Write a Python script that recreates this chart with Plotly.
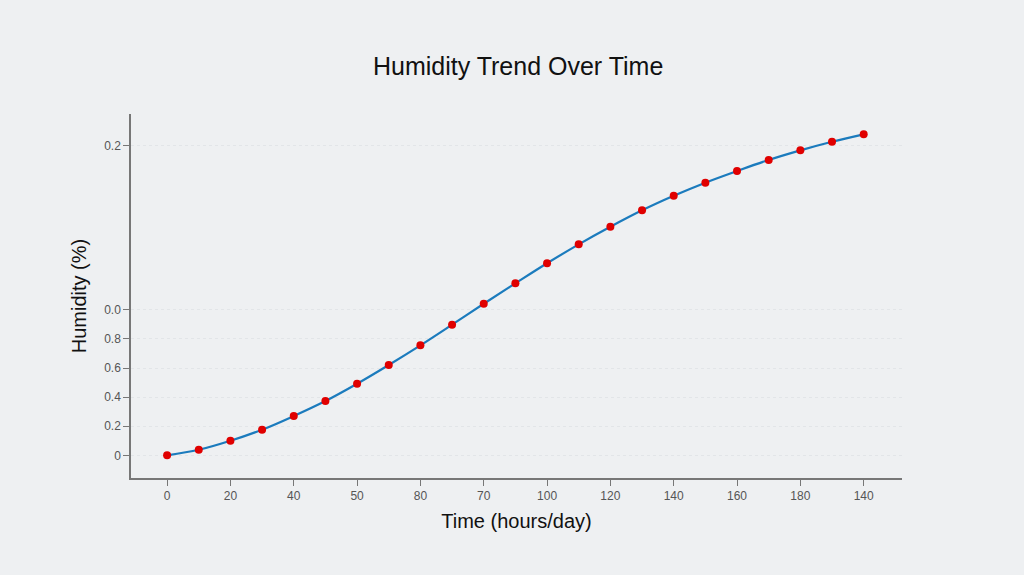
import plotly.graph_objects as go

time_hours = [0, 10, 20, 30, 40, 50, 60, 70, 80, 90, 100, 110, 120, 130, 140, 150, 160, 170, 180, 190, 200, 210, 220]
humidity = [0.0, 0.038, 0.100, 0.176, 0.270, 0.373, 0.492, 0.621, 0.756, 0.898, 1.042, 1.182, 1.320,
            1.450, 1.571, 1.684, 1.784, 1.874, 1.954, 2.030, 2.096, 2.155, 2.206]

x_tickvals = [0, 20, 40, 60, 80, 100, 120, 140, 160, 180, 200, 220]
x_ticktext = ["0", "20", "40", "50", "80", "70", "100", "120", "140", "160", "180", "140"]
y_tickvals = [0, 0.2, 0.4, 0.6, 0.8, 1.0, 2.13]
y_ticktext = ["0", "0.2", "0.4", "0.6", "0.8", "0.0", "0.2"]

bg = "#eef0f2"
fig = go.Figure()
fig.add_trace(go.Scatter(
    x=time_hours, y=humidity, mode="lines+markers",
    line=dict(color="#1b7bbd", width=2.2, shape="spline"),
    marker=dict(color="#e00000", size=8),
    showlegend=False,
))
fig.update_layout(
    width=1024, height=575,
    paper_bgcolor=bg, plot_bgcolor=bg,
    margin=dict(l=131, r=122, t=114, b=97),
    font=dict(family="Liberation Sans, Arial, sans-serif", color="#555555"),
    title=dict(text="Humidity Trend Over Time", x=0.506, xanchor="center", y=0.885, yanchor="middle",
               font=dict(size=25, color="#111111")),
)
fig.update_xaxes(
    range=[-11.4, 232.1], tickvals=x_tickvals, ticktext=x_ticktext,
    showgrid=False, zeroline=False,
    showline=True, linecolor="#777777", linewidth=1.5,
    ticks="outside", ticklen=6, tickcolor="#777777",
    tickfont=dict(size=12, color="#555555"),
    title=dict(text="Time (hours/day)", font=dict(size=20, color="#111111"), standoff=12),
)
fig.update_yaxes(
    range=[-0.156, 2.346], tickvals=y_tickvals, ticktext=y_ticktext,
    showgrid=True, gridcolor="#e2e5e8", griddash="dot", gridwidth=1, zeroline=False,
    showline=True, linecolor="#777777", linewidth=1.5,
    ticks="outside", ticklen=6, tickcolor="#777777",
    tickfont=dict(size=12, color="#555555"),
    title=dict(text="Humidity (%)", font=dict(size=20, color="#111111"), standoff=12),
)
fig.write_html("out.html")
